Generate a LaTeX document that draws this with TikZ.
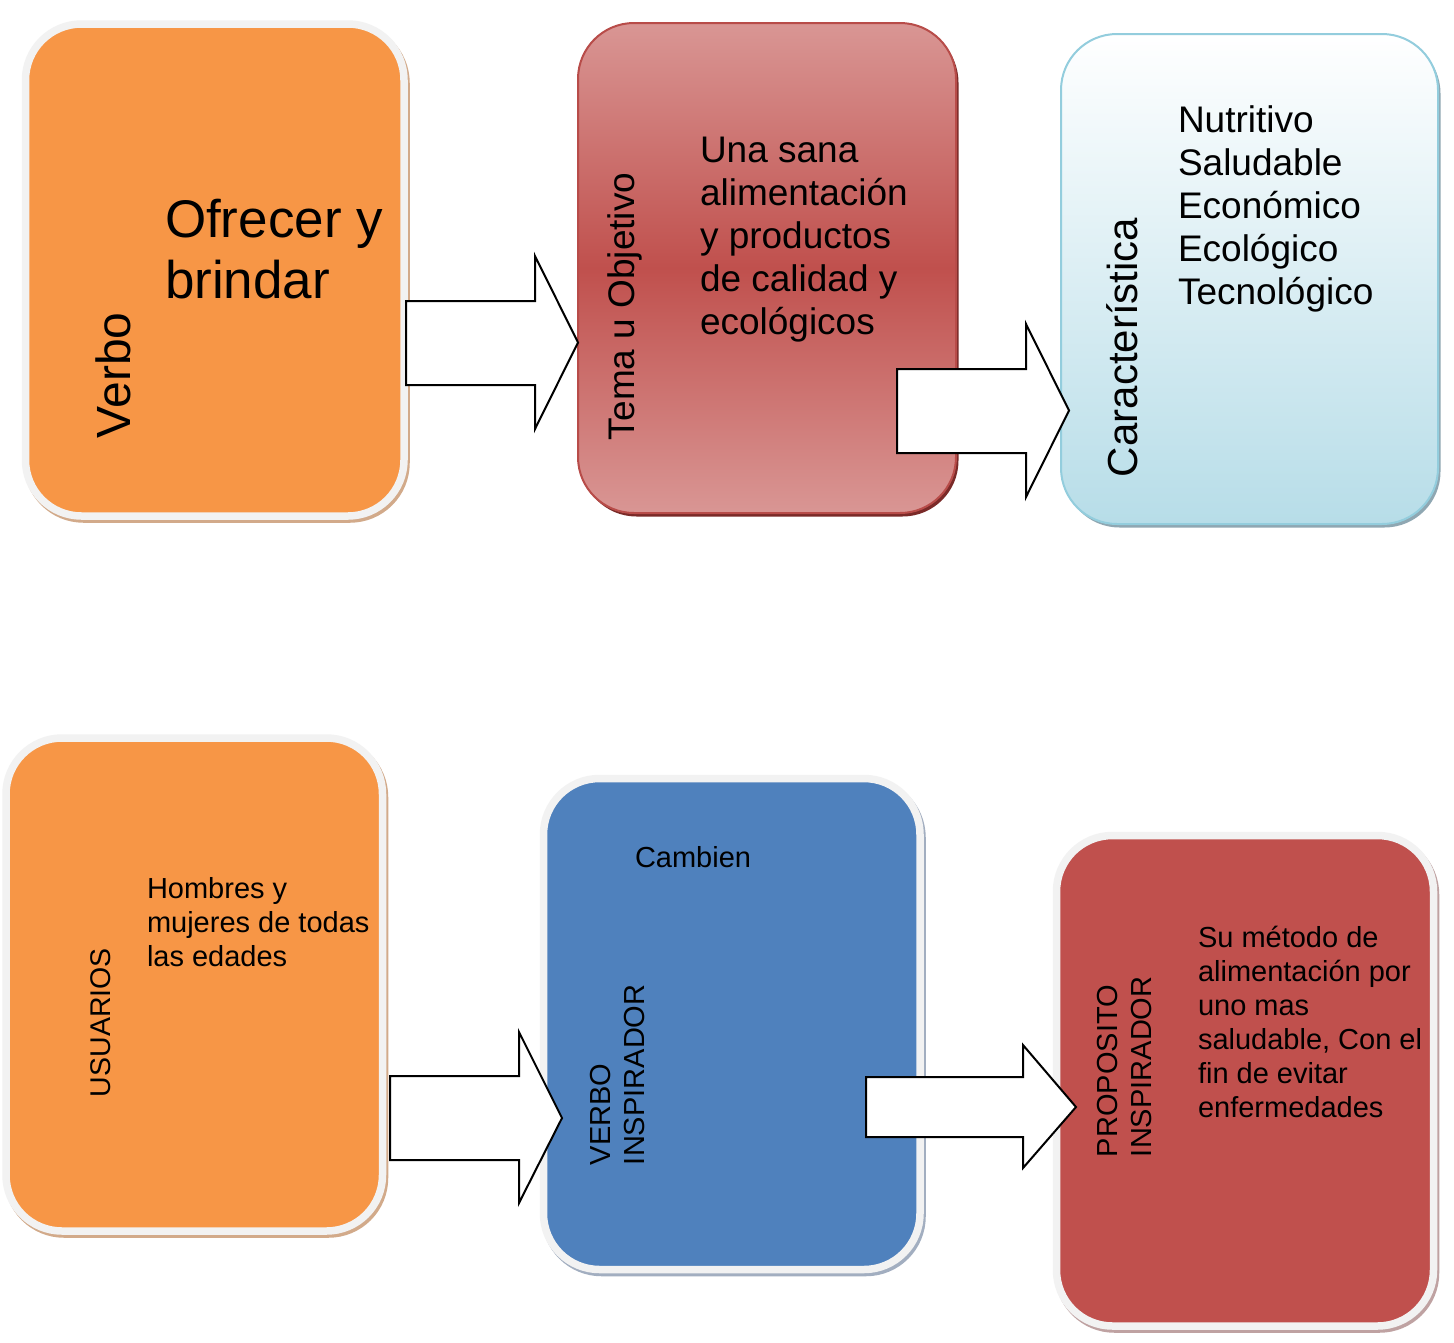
\documentclass[tikz,border=0pt]{standalone}
\usepackage{fontspec}
\setmainfont{Liberation Sans}
\definecolor{orangebox}{HTML}{F79646}
\definecolor{ringgray}{HTML}{F2F2F2}
\definecolor{tanshadow}{HTML}{D2AA8A}
\definecolor{bluebox}{HTML}{4F81BD}
\definecolor{blueshadow}{HTML}{A2AEC0}
\definecolor{redbox}{HTML}{C0504D}
\definecolor{redshadow}{HTML}{BFA2A2}
\definecolor{pinktop}{HTML}{D99694}
\definecolor{redborder}{HTML}{B84C49}
\definecolor{darkred}{HTML}{7A2A28}
\definecolor{cyanbot}{HTML}{B7DDE8}
\definecolor{cyanborder}{HTML}{93CDDD}
\definecolor{cyanshadow}{HTML}{8FA7B2}
\tikzset{
  boxbase/.style={rectangle, inner sep=0pt, outer sep=0pt, rounded corners=56pt},
  ringbox/.style={boxbase, draw=ringgray, line width=7.5pt,
    preaction={draw=#1, line width=7.5pt, transform canvas={xshift=2pt,yshift=-3pt}}},
  gradbox/.style={boxbase, line width=2pt,
    preaction={fill=#1, transform canvas={xshift=2.5pt,yshift=-3.5pt}}},
  blockarrow/.style={draw=black, fill=white, line width=2pt, line join=miter},
  txt/.style={inner sep=0pt, outer sep=0pt, align=left, text=black},
}
\begin{document}
\begin{tikzpicture}[x=1pt,y=-1pt]
\useasboundingbox[fill=white] (0,0) rectangle (1454,1342);

% ---------- top row ----------
\node[ringbox=tanshadow, fill=orangebox, minimum width=378.5pt, minimum height=492pt] (verbo) at (214.75,270) {};
\node[gradbox=darkred, draw=redborder, top color=pinktop, bottom color=pinktop, middle color=redbox,
      minimum width=378pt, minimum height=490pt] (tema) at (767,268) {};
\node[gradbox=cyanshadow, draw=cyanborder, top color=white, bottom color=cyanbot,
      minimum width=377pt, minimum height=490pt] (carac) at (1249.5,279) {};

% ---------- bottom row ----------
\node[ringbox=tanshadow, fill=orangebox, minimum width=376.5pt, minimum height=493pt] (usuarios) at (194.25,984.5) {};
\node[ringbox=blueshadow, fill=bluebox, minimum width=376.5pt, minimum height=491pt] (verboinsp) at (731.75,1024) {};
\node[ringbox=redshadow, fill=redbox, minimum width=377pt, minimum height=490.5pt] (proposito) at (1245,1080.75) {};

% ---------- texts ----------
\node[txt, rotate=90, anchor=base west, font=\fontsize{48}{55}\selectfont] (tverbo) at (130,438) {Verbo};
\node[txt, anchor=north west, font=\fontsize{53}{61}\selectfont] (tofrecer) at (165,199) {Ofrecer y\\brindar};

\node[txt, rotate=90, anchor=base west, font=\fontsize{37}{43}\selectfont] (ttema) at (634,440) {Tema u Objetivo};
\node[txt, anchor=north west, font=\fontsize{37}{43}\selectfont] (tsana) at (700,137) {Una sana\\alimentación\\y productos\\de calidad y\\ecológicos};

\node[txt, rotate=90, anchor=base west, font=\fontsize{42}{48}\selectfont] (tcarac) at (1137,477) {Característica};
\node[txt, anchor=north west, font=\fontsize{37}{43}\selectfont] (tlist) at (1178,106) {Nutritivo\\Saludable\\Económico\\Ecológico\\Tecnológico};

\node[txt, rotate=90, anchor=base west, font=\fontsize{28.5}{34}\selectfont] (tusu) at (110,1097) {USUARIOS};
\node[txt, anchor=north west, font=\fontsize{29}{34}\selectfont] (thombres) at (147,877) {Hombres y\\mujeres de todas\\las edades};

\node[txt, anchor=north west, font=\fontsize{29}{34}\selectfont] (tcambien) at (635,846) {Cambien};
\node[txt, rotate=90, anchor=north west, font=\fontsize{29}{34}\selectfont] (tvinsp) at (590,1165) {VERBO\\INSPIRADOR};

\node[txt, rotate=90, anchor=north west, font=\fontsize{29}{34}\selectfont] (tpinsp) at (1097,1157) {PROPOSITO\\INSPIRADOR};
\node[txt, anchor=north west, font=\fontsize{29}{34}\selectfont] (tsu) at (1198,926) {Su método de\\alimentación por\\uno mas\\saludable, Con el\\fin de evitar\\enfermedades};

% ---------- block arrows ----------
\draw[blockarrow] (406,301) -- (535,301) -- (535,256) -- (578,342.5) -- (535,429) -- (535,385) -- (406,385) -- cycle;
\draw[blockarrow] (897,369) -- (1026,369) -- (1026,324) -- (1069,410.5) -- (1026,497) -- (1026,453) -- (897,453) -- cycle;
\draw[blockarrow] (390,1076) -- (519,1076) -- (519,1032) -- (562,1118) -- (519,1203) -- (519,1160) -- (390,1160) -- cycle;
\draw[blockarrow] (866,1077) -- (1023,1077) -- (1023,1045) -- (1076,1107) -- (1023,1168) -- (1023,1137) -- (866,1137) -- cycle;
\end{tikzpicture}
\end{document}
